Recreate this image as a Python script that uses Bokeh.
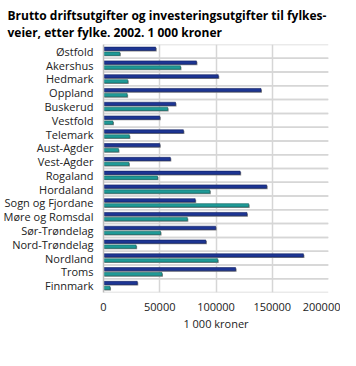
from bokeh.plotting import figure
from bokeh.models import (ColumnDataSource, FactorRange, Range1d, FixedTicker, PrintfTickFormatter,
                          Legend, LegendItem)
from bokeh.transform import dodge
from bokeh.embed import file_html
from bokeh.resources import INLINE

counties = ["Østfold", "Akershus", "Hedmark", "Oppland", "Buskerud", "Vestfold", "Telemark",
            "Aust-Agder", "Vest-Agder", "Rogaland", "Hordaland", "Sogn og Fjordane",
            "Møre og Romsdal", "Sør-Trøndelag", "Nord-Trøndelag", "Nordland", "Troms", "Finnmark"]
drift = [46400, 82600, 102000, 140000, 64000, 50000, 71000, 50000, 59400, 121500,
         145000, 81500, 127500, 99700, 91000, 177700, 117400, 30000]
invest = [14500, 68400, 21500, 21000, 57000, 8400, 23000, 13300, 22600, 48000,
          94500, 129000, 74500, 50700, 29000, 101500, 52000, 5800]
x_ticks = [0, 50000, 100000, 150000, 200000]

DARK = "#1d3593"
TEAL = "#1f9a97"
FONT = "Open Sans"

src = ColumnDataSource(dict(cat=counties, drift=drift, invest=invest))

p = figure(width=340, height=350, output_backend="svg", toolbar_location=None,
           y_range=FactorRange(factors=list(reversed(counties))),
           x_range=Range1d(0, x_ticks[-1]),
           min_border_left=98, min_border_right=12, min_border_top=4, min_border_bottom=58)

p.title.text = "Brutto driftsutgifter og investeringsutgifter til fylkes-\nveier, etter fylke. 2002. 1 000 kroner"
p.title.text_font = FONT
p.title.text_font_size = "12px"
p.title.text_font_style = "bold"
p.title.text_color = "#000000"
p.title.offset = -96
p.title.standoff = 8

p.outline_line_color = None
p.background_fill_color = "white"
p.border_fill_color = "white"

# grid
p.ygrid.visible = False
p.xgrid.ticker = FixedTicker(ticks=x_ticks)
p.xgrid.grid_line_color = "#d6d6d6"
p.xgrid.grid_line_width = 1.5

# horizontal separators between categories
p.segment(x0=0, x1=x_ticks[-1], y0=dodge("cat", 0.5, range=p.y_range),
          y1=dodge("cat", 0.5, range=p.y_range), source=src,
          line_color="#d6d6d6", line_width=1.5)
p.segment(x0=0, x1=x_ticks[-1], y0=dodge("cat", -0.5, range=p.y_range),
          y1=dodge("cat", -0.5, range=p.y_range), source=src,
          line_color="#d6d6d6", line_width=1.5)

H = 0.24
# shadows
p.hbar(y=dodge("cat", 0.19 - 0.07, range=p.y_range), left=700, right=dodge("drift", 900),
       height=H, source=src, fill_color="#8a8a8a", line_color=None)
p.hbar(y=dodge("cat", -0.17 - 0.07, range=p.y_range), left=700, right=dodge("invest", 900),
       height=H, source=src, fill_color="#8a8a8a", line_color=None)
# bars
r1 = p.hbar(y=dodge("cat", 0.19, range=p.y_range), left=0, right="drift", height=H, source=src,
            fill_color=DARK, line_color="#0f1f60", line_width=0.6)
r2 = p.hbar(y=dodge("cat", -0.17, range=p.y_range), left=0, right="invest", height=H, source=src,
            fill_color=TEAL, line_color="#0f6460", line_width=0.6)

# axes
p.xaxis.ticker = FixedTicker(ticks=x_ticks)
p.xaxis.formatter = PrintfTickFormatter(format="%d")
p.xaxis.axis_label = "1 000 kroner"
p.xaxis.axis_line_color = None
p.xaxis.major_tick_line_color = None
p.xaxis.minor_tick_line_color = None
p.xaxis.major_label_text_font = FONT
p.xaxis.major_label_text_font_size = "11px"
p.xaxis.major_label_text_color = "#222222"
p.xaxis.major_label_standoff = 4
p.xaxis.axis_label_text_font = FONT
p.xaxis.axis_label_text_font_size = "11px"
p.xaxis.axis_label_text_font_style = "normal"
p.xaxis.axis_label_text_color = "#222222"
p.xaxis.axis_label_standoff = 2

p.yaxis.axis_line_color = "#bdbdbd"
p.yaxis.axis_line_width = 1.5
p.yaxis.major_tick_line_color = None
p.yaxis.minor_tick_line_color = None
p.yaxis.major_label_text_font = FONT
p.yaxis.major_label_text_font_size = "11px"
p.yaxis.major_label_text_color = "#222222"
p.yaxis.major_label_standoff = 4

legend = Legend(items=[LegendItem(label="Brutto driftsutgifter", renderers=[r1]),
                       LegendItem(label="Brutto investeringsutgifter", renderers=[r2])],
                orientation="horizontal", location=(-76, -52),
                label_text_font=FONT, label_text_font_size="11px", label_text_color="#222222",
                glyph_width=12, glyph_height=12, spacing=30, padding=2, margin=0,
                border_line_color=None, background_fill_alpha=0, label_standoff=5)
p.add_layout(legend, "center")

open("out.html", "w").write(file_html(p, INLINE))
